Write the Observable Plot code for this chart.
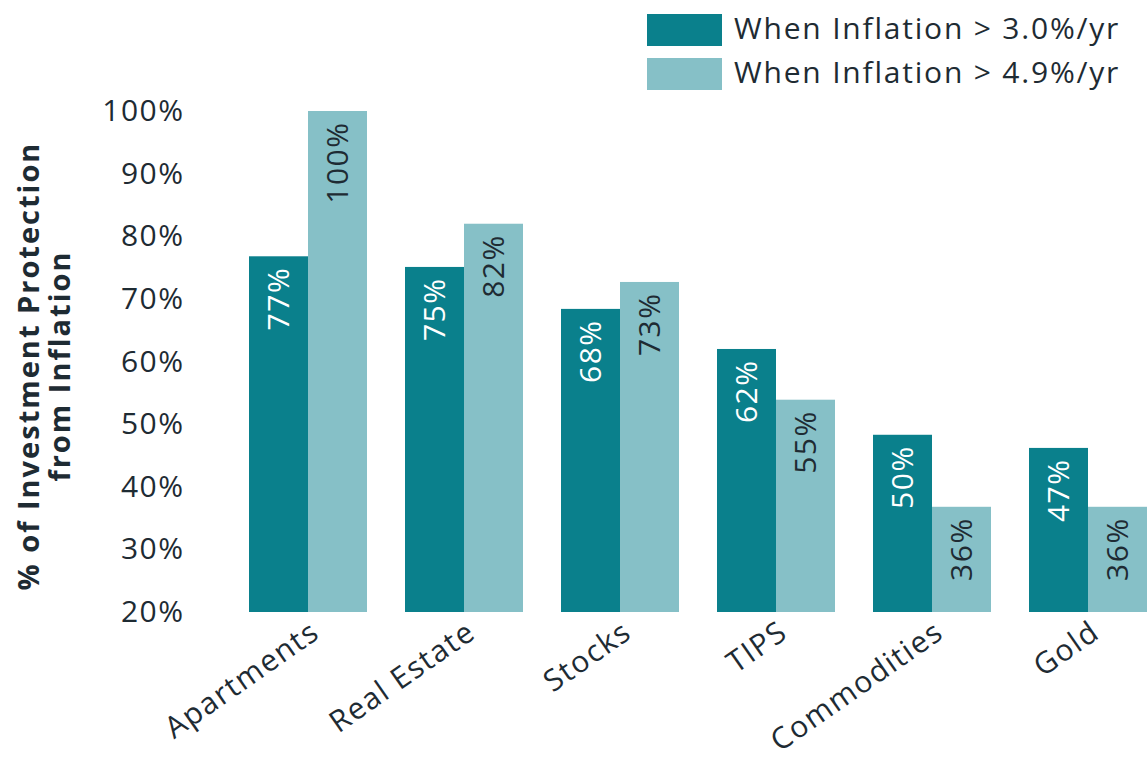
<!DOCTYPE html>
<html>
<head>
<meta charset="utf-8">
<script src="https://cdn.jsdelivr.net/npm/d3@7"></script>
<script src="https://cdn.jsdelivr.net/npm/@observablehq/plot@0.6"></script>
<style>
  html, body { margin: 0; padding: 0; background: #fff; }
  #wrap { position: relative; width: 1147px; height: 763px; font-family: "Open Sans", sans-serif; color: #1e2b33; }
  #legend { position: absolute; left: 647px; top: 14px; }
  .li { display: flex; align-items: center; height: 32px; margin-bottom: 12px; font-size: 30px; letter-spacing: 1.8px; white-space: nowrap; }
  .li span { position: relative; top: -3px; }
  .sw { width: 75px; height: 32px; margin-right: 12px; }
  #ytitle { position: absolute; left: -227px; top: 335px; width: 540px; height: 62px; transform: rotate(-90deg);
            text-align: center; font-weight: 700; font-size: 29px; line-height: 31px; letter-spacing: 2px; }
  #chart svg text { letter-spacing: 1.5px; }
</style>
</head>
<body>
<div id="wrap">
  <div id="chart"></div>
  <div id="legend"></div>
  <div id="ytitle">% of Investment Protection<br>from Inflation</div>
</div>
<script>
const categories = ["Apartments", "Real Estate", "Stocks", "TIPS", "Commodities", "Gold"];
const series = ["When Inflation > 3.0%/yr", "When Inflation > 4.9%/yr"];
const values30 = [76.8, 75.1, 68.4, 62.0, 48.3, 46.2];
const values49 = [100, 82.0, 72.7, 53.9, 36.8, 36.8];
const labels30 = ["77%", "75%", "68%", "62%", "50%", "47%"];
const labels49 = ["100%", "82%", "73%", "55%", "36%", "36%"];
const yTicks = [20, 30, 40, 50, 60, 70, 80, 90, 100];
const colors = ["#0a808c", "#86c0c7"];
const textColors = ["#ffffff", "#1e2b33"];

const data = [];
categories.forEach((c, i) => {
  data.push({category: c, series: series[0], value: values30[i], label: labels30[i]});
  data.push({category: c, series: series[1], value: values49[i], label: labels49[i]});
});
const yMin = yTicks[0], yMax = yTicks[yTicks.length - 1];

const chart = Plot.plot({
  width: 1147,
  height: 763,
  marginTop: 111,
  marginBottom: 151,
  marginLeft: 247,
  marginRight: 0,
  style: {fontFamily: "'Open Sans', sans-serif", color: "#1e2b33", background: "#fff"},
  fx: {domain: categories, paddingInner: 0.24, paddingOuter: 0, label: null},
  x: {domain: series, padding: 0, axis: null},
  y: {domain: [yMin, yMax], label: null},
  color: {domain: series, range: colors},
  marks: [
    Plot.barY(data, {fx: "category", x: "series", y1: () => yMin, y2: "value", fill: "series"}),
    Plot.text(data, {fx: "category", x: "series", y: "value", text: "label", rotate: -90,
      textAnchor: "end", dy: 10, fontSize: 30,
      fill: d => textColors[series.indexOf(d.series)]}),
    Plot.axisY(yTicks, {tickFormat: d => d + "%", tickSize: 0, tickPadding: 64, fontSize: 30, label: null}),
    Plot.axisFx({anchor: "bottom", tickRotate: -35, tickSize: 0, tickPadding: 16, dx: 8, fontSize: 30, label: null})
  ]
});
document.getElementById("chart").appendChild(chart);

const legend = document.getElementById("legend");
series.forEach((s, i) => {
  const row = document.createElement("div");
  row.className = "li";
  const sw = document.createElement("div");
  sw.className = "sw";
  sw.style.background = colors[i];
  const t = document.createElement("span");
  t.textContent = s;
  row.appendChild(sw);
  row.appendChild(t);
  legend.appendChild(row);
});
</script>
</body>
</html>
